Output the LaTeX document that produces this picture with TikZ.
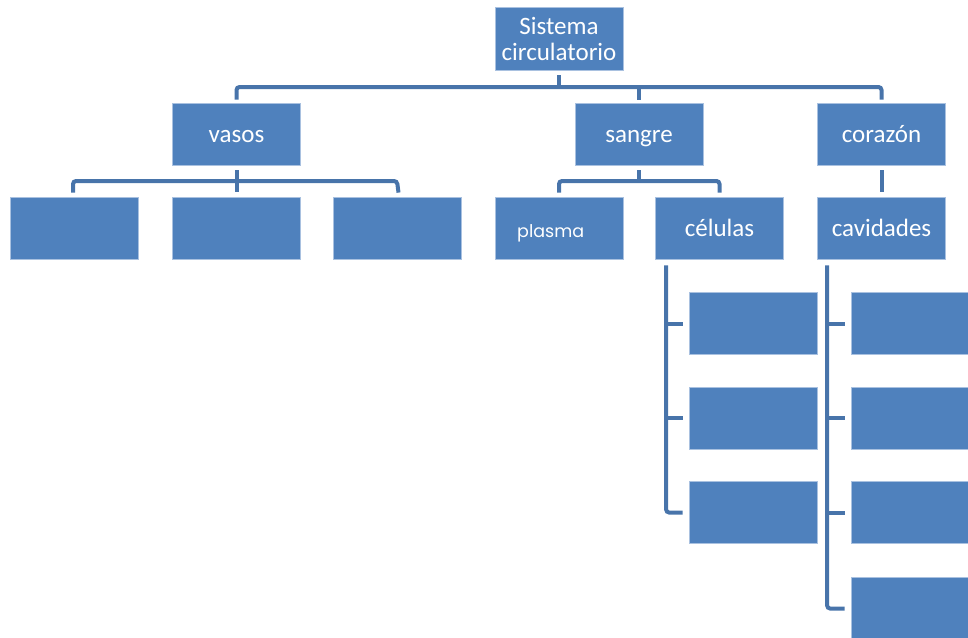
\documentclass[tikz,border=0pt]{standalone}
\usepackage{fontspec}
\setmainfont{Carlito}
\newfontfamily\plasmafont{Poppins}
\usetikzlibrary{calc}
\definecolor{boxblue}{HTML}{4F81BD}
\definecolor{boxedge}{HTML}{A9C1E0}
\definecolor{linkblue}{HTML}{4874AA}
\tikzset{
  box/.style={rectangle, fill=boxblue, draw=boxedge, line width=0.8pt, text=white,
    minimum width=128pt, minimum height=62pt, inner sep=2pt, align=center,
    text height=18pt, text depth=2pt,
    font=\fontsize{25}{29}\selectfont},
  conn/.style={draw=linkblue, line width=4pt, rounded corners=3pt}
}
\begin{document}
\begin{tikzpicture}[x=1pt,y=1pt]
\useasboundingbox (0,0) rectangle (968,-637);
% level 0
\node[box, minimum height=63pt, text height=, text depth=] (root) at (559,-38.5) {Sistema\\[-3pt]circulatorio};
% level 1
\node[box] (vasos) at (236.5,-134) {vasos};
\node[box] (sangre) at (639,-134) {sangre};
\node[box] (corazon) at (881.5,-134) {corazón};
% level 2
\node[box] (v1) at (74.5,-228) {};
\node[box] (v2) at (236.5,-228) {};
\node[box] (v3) at (397,-228) {};
\node[box] (plasma) at (559,-228) {};
\node[text=white, inner sep=0pt, anchor=base west, font=\plasmafont\fontsize{17.5}{20}\selectfont] (plasmatxt) at (517,-237) {plasma};
\node[box] (celulas) at (719.5,-228) {células};
\node[box] (cavidades) at (881.5,-228) {cavidades};
% células children
\node[box] (c1) at (753,-323.5) {};
\node[box] (c2) at (753,-418) {};
\node[box] (c3) at (753,-512.5) {};
% cavidades children
\node[box] (k1) at (915,-323.5) {};
\node[box] (k2) at (915,-418) {};
\node[box] (k3) at (915,-512.5) {};
\node[box] (k4) at (915,-608.5) {};
% connectors level 0 -> 1
\coordinate (busA) at (0,-87);
\draw[conn] ([yshift=-5pt]root.south) -- (root.south |- busA);
\draw[conn] ([yshift=3pt]vasos.north) |- (corazon.north |- busA) -- ([yshift=3pt]corazon.north);
\draw[conn] (sangre.north |- busA) -- ([yshift=3pt]sangre.north);
% vasos -> children
\coordinate (busB) at (0,-181);
\draw[conn] ([yshift=-5pt]vasos.south) -- ([yshift=5pt]v2.north);
\draw[conn] ([xshift=-1.5pt,yshift=4pt]v1.north) |- (v3.north |- busB) -- ([xshift=1.5pt,yshift=4pt]v3.north);
% sangre -> children
\draw[conn] ([yshift=-5pt]sangre.south) -- (sangre.south |- busB);
\draw[conn] ([yshift=4pt]plasma.north) |- (celulas.north |- busB) -- ([yshift=4pt]celulas.north);
% corazon -> cavidades
\draw[conn] ([yshift=-5pt]corazon.south) -- ([yshift=5pt]cavidades.north);
% células -> children
\coordinate (cx) at ($(celulas.south west)+(11,-6)$);
\draw[conn] (cx) |- ([xshift=-6pt]c3.west);
\draw[conn] (cx |- c1.west) -- ([xshift=-6pt]c1.west);
\draw[conn] (cx |- c2.west) -- ([xshift=-6pt]c2.west);
% cavidades -> children
\coordinate (kx) at ($(cavidades.south west)+(10,-6)$);
\draw[conn] (kx) |- ([xshift=-6pt]k4.west);
\draw[conn] (kx |- k1.west) -- ([xshift=-6pt]k1.west);
\draw[conn] (kx |- k2.west) -- ([xshift=-6pt]k2.west);
\draw[conn] (kx |- k3.west) -- ([xshift=-6pt]k3.west);
\end{tikzpicture}
\end{document}
